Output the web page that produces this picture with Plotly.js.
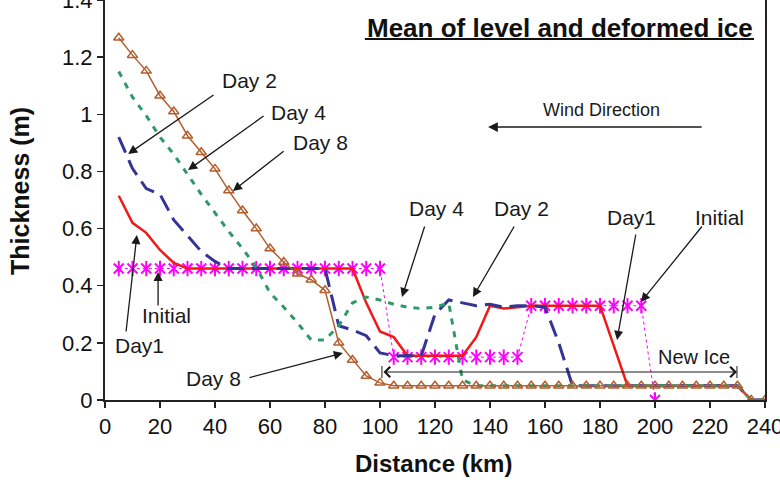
<!DOCTYPE html>
<html>
<head>
<meta charset="utf-8">
<script src="https://cdn.plot.ly/plotly-3.0.1.min.js"></script>
<style>
  html, body { margin: 0; padding: 0; background: #fff; }
  #chart { width: 780px; height: 480px; }
</style>
</head>
<body>
<div id="chart"></div>
<script>
// Distance along the transect (km)
const distance = [5, 10, 15, 20, 25, 30, 35, 40, 45, 50, 55, 60, 65, 70, 75, 80,
  85, 90, 95, 100, 105, 110, 115, 120, 125, 130, 135, 140, 145, 150, 155, 160,
  165, 170, 175, 180, 185, 190, 195, 200, 205, 210, 215, 220, 225, 230, 235, 240];

// Mean ice thickness (m) of level and deformed ice
const initialThk = [0.46, 0.46, 0.46, 0.46, 0.46, 0.46, 0.46, 0.46, 0.46, 0.46,
  0.46, 0.46, 0.46, 0.46, 0.46, 0.46, 0.46, 0.46, 0.46, 0.46,
  0.15, 0.15, 0.15, 0.15, 0.15, 0.15, 0.15, 0.15, 0.15, 0.15,
  0.33, 0.33, 0.33, 0.33, 0.33, 0.33, 0.33, 0.33, 0.33, 0,
  null, null, null, null, null, null, null, null];

const day1Thk = [0.715, 0.62, 0.585, 0.525, 0.48, 0.46, 0.46, 0.46, 0.46, 0.46,
  0.46, 0.46, 0.46, 0.46, 0.46, 0.46, 0.46, 0.46, 0.34, 0.24,
  0.22, 0.155, 0.155, 0.155, 0.155, 0.155, 0.22, 0.33, 0.32, 0.325,
  0.33, 0.33, 0.33, 0.33, 0.33, 0.33, 0.19, 0.05, 0.05, 0.05,
  0.05, 0.05, 0.05, 0.05, 0.05, 0.05, 0, 0];

const day2Thk = [0.92, 0.81, 0.74, 0.72, 0.63, 0.575, 0.52, 0.485, 0.46, 0.46,
  0.46, 0.46, 0.46, 0.46, 0.46, 0.46, 0.26, 0.245, 0.225, 0.165,
  0.155, 0.155, 0.155, 0.30, 0.35, 0.34, 0.33, 0.335, 0.325, 0.33,
  0.33, 0.325, 0.2, 0.05, 0.05, 0.05, 0.05, 0.05, 0.05, 0.05,
  0.05, 0.05, 0.05, 0.05, 0.05, 0.05, 0, 0];

const day4Thk = [1.15, 1.06, 0.995, 0.92, 0.86, 0.79, 0.72, 0.655, 0.59, 0.53,
  0.465, 0.375, 0.325, 0.27, 0.21, 0.21, 0.26, 0.34, 0.36, 0.35,
  0.335, 0.325, 0.32, 0.325, 0.34, 0.07, 0.05, 0.05, 0.05, 0.05,
  0.05, 0.05, 0.05, 0.05, 0.05, 0.05, 0.05, 0.05, 0.05, 0.05,
  0.05, 0.05, 0.05, 0.05, 0.05, 0.05, 0, 0];

const day8Thk = [1.268, 1.207, 1.152, 1.065, 1.01, 0.925, 0.867, 0.809, 0.733, 0.663,
  0.60, 0.53, 0.483, 0.442, 0.421, 0.384, 0.2, 0.14, 0.084, 0.06,
  0.05, 0.05, 0.05, 0.05, 0.05, 0.05, 0.05, 0.05, 0.05, 0.05,
  0.05, 0.05, 0.05, 0.05, 0.05, 0.05, 0.05, 0.05, 0.05, 0.05,
  0.05, 0.05, 0.05, 0.05, 0.05, 0.05, 0, 0];

const xTicks = [0, 20, 40, 60, 80, 100, 120, 140, 160, 180, 200, 220, 240];
const yTicks = [0, 0.2, 0.4, 0.6, 0.8, 1, 1.2, 1.4];

const FONT = 'Liberation Sans, Arial, sans-serif';
const MAGENTA = '#ff00ff';
const RED = '#f01818';
const BLUE = '#343494';
const GREEN = '#2f9a68';
const BROWN = '#b45f2e';

const traces = [
  { // initial profile: dotted line with star markers (X arms)
    x: distance, y: initialThk, name: 'Initial', mode: 'lines+markers',
    line: { color: MAGENTA, width: 1, dash: 'dot' },
    marker: { symbol: 'x-thin-open', size: 10, color: MAGENTA, line: { color: MAGENTA, width: 2 } }
  },
  { // vertical arm of the star markers
    x: distance, y: initialThk, name: 'Initial', mode: 'markers',
    marker: { symbol: 'line-ns-open', size: 11, color: MAGENTA, line: { color: MAGENTA, width: 2 } }
  },
  {
    x: distance, y: day1Thk, name: 'Day1', mode: 'lines',
    line: { color: RED, width: 2.5 }
  },
  {
    x: distance, y: day2Thk, name: 'Day 2', mode: 'lines',
    line: { color: BLUE, width: 3, dash: '17px,8px' }
  },
  {
    x: distance, y: day4Thk, name: 'Day 4', mode: 'lines',
    line: { color: GREEN, width: 3, dash: '6px,7px' }
  },
  {
    x: distance, y: day8Thk, name: 'Day 8', mode: 'lines+markers',
    line: { color: BROWN, width: 1.5 },
    marker: { symbol: 'triangle-up-open', size: 9, color: BROWN, line: { color: BROWN, width: 1.5 } }
  }
];

// text label helper
function label(text, x, y, size) {
  return { text: text, x: x, y: y, xref: 'x', yref: 'y', showarrow: false,
    xanchor: 'center', yanchor: 'middle',
    font: { family: FONT, size: size || 21, color: '#1a1a1a' } };
}
// arrow from (tx, ty) to (hx, hy)
function pointer(hx, hy, tx, ty, opts) {
  return Object.assign({ text: '', x: hx, y: hy, ax: tx, ay: ty,
    xref: 'x', yref: 'y', axref: 'x', ayref: 'y', showarrow: true,
    arrowhead: 2, arrowsize: 1.4, arrowwidth: 1.3, arrowcolor: '#1a1a1a', standoff: 0 }, opts || {});
}

const annotations = [
  { text: '<b>Mean of level and deformed ice</b>', x: 165.5, y: 1.302, xref: 'x', yref: 'y',
    showarrow: false, xanchor: 'center', yanchor: 'middle',
    font: { family: FONT, size: 26, color: '#111' } },
  label('Wind Direction', 180.7, 1.015, 18),
  pointer(139.3, 0.9555, 217.5, 0.9555, { arrowwidth: 1.5, arrowsize: 1.3 }),

  label('Day 2', 52.4, 1.12), pointer(8.4, 0.861, 40, 1.071),
  label('Day 4', 70.5, 1.008), pointer(30.2, 0.805, 58.2, 0.9975),
  label('Day 8', 78.2, 0.903), pointer(46.5, 0.7315, 65.5, 0.875),

  label('Initial', 22.5, 0.2975), pointer(19.3, 0.448, 19.3, 0.3255),
  label('Day1', 12.7, 0.1925), pointer(11.6, 0.5775, 7.6, 0.2345),
  label('Day 8', 39.3, 0.077), pointer(86.5, 0.1645, 52, 0.077),

  label('Day 4', 120.4, 0.672), pointer(108, 0.3605, 116.4, 0.6125),
  label('Day 2', 151.3, 0.672), pointer(133.8, 0.3605, 149.1, 0.6125),
  label('Day1', 191.6, 0.6405), pointer(186.2, 0.21, 193.1, 0.5845),
  label('Initial', 223.3, 0.6405), pointer(194.9, 0.343, 217.5, 0.6125),

  label('New Ice', 214.2, 0.1505, 20),
  pointer(229.8, 0.098, 100.7, 0.098, { arrowside: 'end+start', arrowhead: 4, arrowwidth: 1, arrowsize: 2 }),

  { text: '<b>Thickness (m)</b>', xref: 'paper', yref: 'paper', x: -0.1288, y: 0.5225,
    textangle: -90, showarrow: false, xanchor: 'center', yanchor: 'middle',
    font: { family: FONT, size: 25, color: '#111' } },
  { text: '<b>Distance (km)</b>', xref: 'paper', yref: 'paper', x: 0.4977, y: -0.158,
    showarrow: false, xanchor: 'center', yanchor: 'middle',
    font: { family: FONT, size: 24, color: '#111' } }
];

const shapes = [
  // title underline
  { type: 'line', xref: 'x', yref: 'y', x0: 94.5, x1: 236, y0: 1.2635, y1: 1.2635,
    line: { color: '#111', width: 2 } },
  // end bars of the new-ice span
  { type: 'line', xref: 'x', yref: 'y', x0: 100.7, x1: 100.7, y0: 0.077, y1: 0.119,
    line: { color: '#1a1a1a', width: 1 } },
  { type: 'line', xref: 'x', yref: 'y', x0: 229.8, x1: 229.8, y0: 0.077, y1: 0.119,
    line: { color: '#1a1a1a', width: 1 } }
];

const layout = {
  width: 780, height: 480,
  margin: { l: 105, r: 15, t: 0, b: 80 },
  paper_bgcolor: '#fff', plot_bgcolor: '#fff',
  showlegend: false,
  font: { family: FONT, color: '#111' },
  xaxis: {
    range: [0, 240], tickvals: xTicks, ticktext: xTicks.map(String),
    ticks: 'outside', ticklen: 6, tickwidth: 1.5, tickcolor: '#222',
    showline: true, linecolor: '#222', linewidth: 2,
    showgrid: false, zeroline: false, ticklabeloverflow: 'allow',
    tickfont: { family: FONT, size: 22, color: '#111' }
  },
  yaxis: {
    range: [0, 1.4], tickvals: yTicks, ticktext: yTicks.map(String),
    ticks: 'outside', ticklen: 6, tickwidth: 1.5, tickcolor: '#222',
    showline: true, linecolor: '#222', linewidth: 2, mirror: true,
    showgrid: false, zeroline: false, ticklabeloverflow: 'allow',
    tickfont: { family: FONT, size: 22, color: '#111' }
  },
  annotations: annotations,
  shapes: shapes
};

Plotly.newPlot('chart', traces, layout, { displayModeBar: false, staticPlot: true });
</script>
</body>
</html>
